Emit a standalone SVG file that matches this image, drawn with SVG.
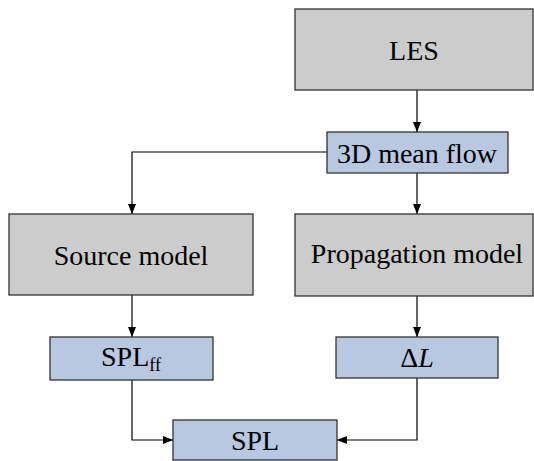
<svg xmlns="http://www.w3.org/2000/svg" width="534" height="461" viewBox="0 0 534 461">
<style>
.g{fill:#cccccc;stroke:#333333;stroke-width:1.3}
.b{fill:#b8c8e0;stroke:#333333;stroke-width:1.3}
text{font-family:"Liberation Serif","Times New Roman",serif;font-size:28px;fill:#000;text-anchor:middle}
.c{fill:none;stroke:#000;stroke-width:1.2}
</style>
<defs>
<marker id="ah" viewBox="0 0 10 8" refX="10" refY="4" markerWidth="10" markerHeight="8" markerUnits="userSpaceOnUse" orient="auto">
<path d="M0,0 L10,4 L0,8 Z" fill="#000"/>
</marker>
</defs>
<rect width="534" height="461" fill="#fff"/>
<g id="connectors">
<line class="c" x1="417" y1="90" x2="417" y2="132" marker-end="url(#ah)"/>
<polyline class="c" points="327,152 132,152 132,214" marker-end="url(#ah)"/>
<line class="c" x1="417" y1="173" x2="417" y2="214" marker-end="url(#ah)"/>
<line class="c" x1="132" y1="295" x2="132" y2="337" marker-end="url(#ah)"/>
<line class="c" x1="417" y1="296" x2="417" y2="337" marker-end="url(#ah)"/>
<polyline class="c" points="132,380 132,440 173,440" marker-end="url(#ah)"/>
<polyline class="c" points="417,378 417,440 337,440" marker-end="url(#ah)"/>
</g>
<g id="les"><rect class="g" x="295" y="9" width="238" height="81"/><text x="414" y="60">LES</text></g>
<g id="meanflow"><rect class="b" x="327" y="132" width="181" height="41"/><text x="417" y="163">3D mean flow</text></g>
<g id="source"><rect class="g" x="9" y="214" width="244" height="81"/><text x="131" y="265">Source model</text></g>
<g id="propagation"><rect class="g" x="295" y="214" width="238" height="82"/><text x="417" y="263">Propagation model</text></g>
<g id="splff"><rect class="b" x="50" y="337" width="163" height="43"/><text x="131" y="366">SPL<tspan font-size="18" dy="5">ff</tspan></text></g>
<g id="deltal"><rect class="b" x="336" y="337" width="162" height="41"/><text x="417" y="367">Δ<tspan font-style="italic">L</tspan></text></g>
<g id="spl"><rect class="b" x="173" y="420" width="164" height="40"/><text x="255" y="450">SPL</text></g>
</svg>
